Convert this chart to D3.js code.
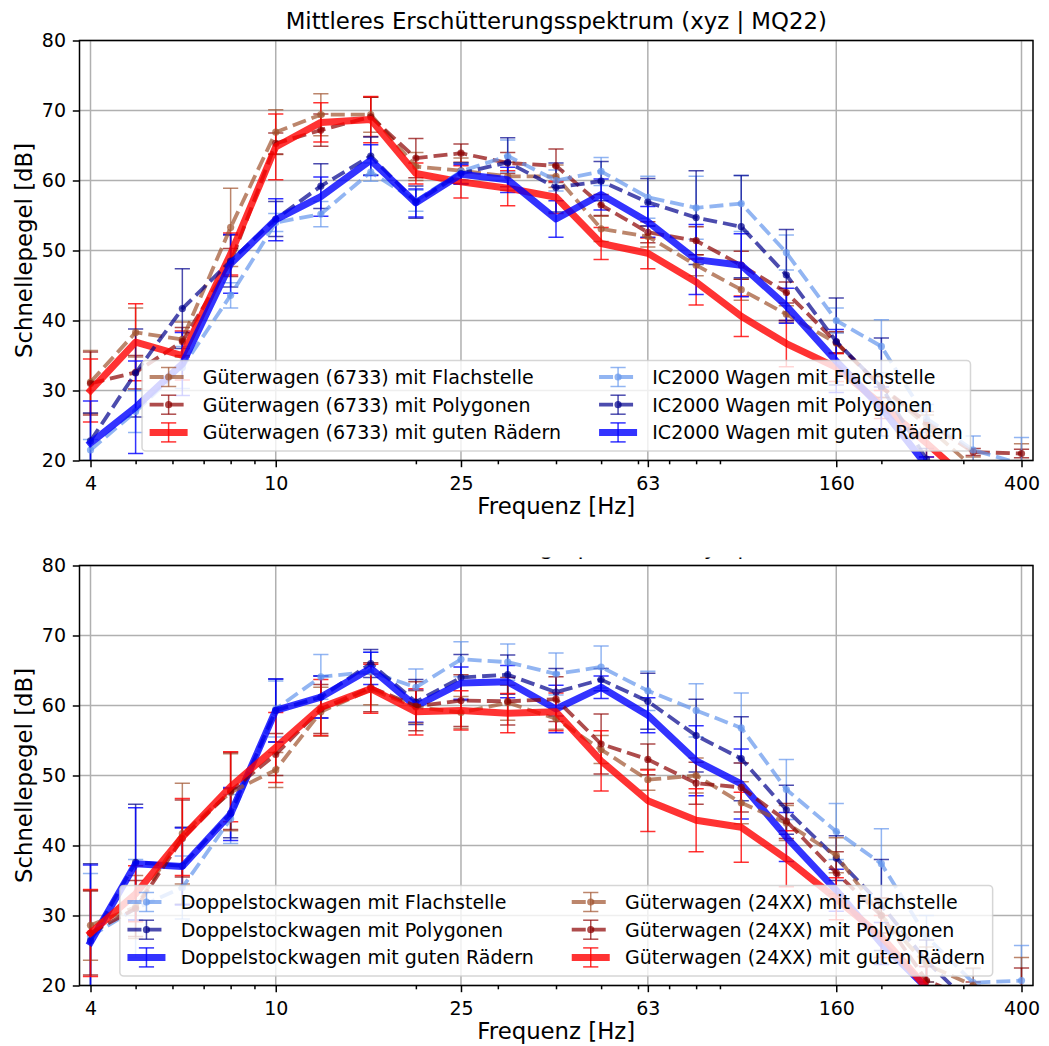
<!DOCTYPE html>
<html><head><meta charset="utf-8">
<script src="https://cdn.jsdelivr.net/npm/d3@7"></script>
<style>body{margin:0;background:#fff} svg{display:block} text{font-family:"DejaVu Sans",sans-serif;fill:#000}</style>
</head><body><svg id="c" width="1049" height="1046"></svg>
<script>
// ---------- data ----------
const bands = [4,5,6.3,8,10,12.5,16,20,25,31.5,40,50,63,80,100,125,160,200,250,315,400];
const xTickValues = [4,10,25,63,160,400];
const xTickLabels = ["4","10","25","63","160","400"];
const xMinorValues = [5,6,7,8,9,20,30,40,50,60,70,80,90,200,300];
const yTickValues = [20,30,40,50,60,70,80];
const chartTitle = "Mittleres Erschütterungsspektrum (xyz | MQ22)";
const xLabel = "Frequenz [Hz]";
const yLabel = "Schnellepegel [dB]";

// top panel
const labelsTop = ["Güterwagen (6733) mit Flachstelle","Güterwagen (6733) mit Polygonen","Güterwagen (6733) mit guten Rädern",
                   "IC2000 Wagen mit Flachstelle","IC2000 Wagen mit Polygonen","IC2000 Wagen mit guten Rädern"];
const g6733Flach = [31.2,38.3,37.3,53.3,66.9,69.4,69.4,62.0,61.4,60.6,60.6,53.1,52.0,47.9,44.4,40.9,36.8,30.5,25.0,19.0,19.5];
const g6733FlachErr = [4.5,3.5,2.5,5.6,3.2,3.0,2.5,2.0,1.8,2.0,1.6,1.8,1.5,1.5,1.5,1.2,1.5,1.5,1.5,1.5,2.9];
const g6733Poly = [31.0,32.6,37.0,48.3,65.3,67.2,69.1,63.2,63.9,62.5,62.1,56.5,52.6,51.4,47.9,44.0,36.9,30.5,25.5,21.2,21.0];
const g6733PolyErr = [4.5,2.4,2.0,2.0,1.5,2.3,2.8,2.8,1.3,1.5,2.4,1.5,1.5,2.0,2.0,1.5,1.5,1.5,1.5,0.5,0.6];
const g6733Gut = [30.0,36.9,35.0,49.5,64.8,68.3,68.7,61.0,59.8,58.9,57.6,51.0,49.6,45.5,40.6,36.7,33.3,28.0,22.5,16.5,13.0];
const g6733GutErr = [4.5,5.5,3.5,3.0,4.7,2.8,3.3,1.5,2.3,2.5,2.3,2.3,2.2,3.3,2.9,3.3,2.0,2.0,2.0,2.0,2.0];
const ic2000Flach = [21.5,27.0,33.3,43.6,54.0,55.2,61.2,57.1,61.3,63.5,60.0,61.3,57.6,56.1,56.7,49.7,40.0,36.3,26.0,21.5,19.5];
const ic2000FlachErr = [1.5,3.0,3.0,1.8,1.3,1.8,1.3,1.5,1.2,2.3,1.5,2.0,3.0,4.5,4.0,2.5,1.8,3.8,2.0,2.0,3.8];
const ic2000Poly = [22.8,32.5,41.7,48.5,54.5,59.2,63.5,56.9,61.0,62.6,59.0,59.9,56.9,54.7,53.4,46.5,37.0,30.5,20.2,15.0,12.0];
const ic2000PolyErr = [4.0,6.3,5.7,3.7,2.5,3.2,2.7,2.3,1.5,3.5,3.5,2.8,3.4,6.7,7.3,6.5,6.2,7.0,1.5,1.5,1.5];
const ic2000Gut = [22.5,27.6,33.8,48.1,54.4,57.7,62.9,56.8,60.9,60.1,54.5,58.0,54.1,48.7,47.9,42.1,34.2,27.5,19.3,12.0,9.0];
const ic2000GutErr = [6.0,6.6,4.5,4.2,3.0,2.8,2.2,2.0,1.4,1.8,2.6,2.2,2.2,5.0,4.5,2.5,4.5,3.0,1.2,1.5,1.5];

// bottom panel
const labelsBottom = ["Doppelstockwagen mit Flachstelle","Doppelstockwagen mit Polygonen","Doppelstockwagen mit guten Rädern",
                      "Güterwagen (24XX) mit Flachstelle","Güterwagen (24XX) mit Polygonen","Güterwagen (24XX) mit guten Rädern"];
const dsFlach = [27.0,31.0,34.0,43.8,59.5,64.1,64.8,62.6,66.6,66.2,64.5,65.5,62.1,59.3,56.8,48.0,42.0,37.4,27.0,20.4,20.7];
const dsFlachErr = [9.0,7.0,4.5,3.5,4.0,3.2,2.8,2.6,2.5,2.6,3.0,3.0,2.8,3.8,5.0,4.3,4.0,5.0,3.0,2.0,5.0];
const dsPoly = [26.4,37.6,37.1,44.6,59.3,61.2,66.0,60.5,64.0,64.4,61.9,63.7,60.6,55.7,52.4,45.1,38.2,31.5,23.5,17.0,14.0];
const dsPolyErr = [11.0,8.3,5.5,3.5,4.5,3.0,2.0,3.2,3.3,2.8,3.4,1.6,4.0,5.2,6.0,3.5,3.2,6.5,3.0,3.0,3.0];
const dsGut = [26.2,37.4,37.0,44.5,59.3,61.2,65.3,59.9,63.2,63.4,59.5,62.6,58.6,52.1,48.8,41.2,33.6,26.0,19.7,13.0,8.0];
const dsGutErr = [11.0,8.0,5.5,3.8,4.5,3.0,2.3,2.3,2.3,2.3,3.4,1.6,2.5,5.0,5.0,3.5,3.0,3.0,3.0,3.0,3.0];
const g24Flach = [28.6,31.2,41.7,47.6,50.8,59.1,62.3,59.8,59.0,60.4,58.1,53.7,49.4,50.0,46.1,43.2,38.6,30.0,23.0,20.0,18.0];
const g24FlachErr = [5.0,4.5,7.2,5.5,2.5,3.5,2.2,2.3,2.3,2.5,1.5,2.0,1.5,2.5,3.0,2.5,2.5,2.5,2.5,2.5,6.0];
const g24Poly = [27.5,31.0,41.0,47.8,53.0,59.5,62.6,59.9,60.7,60.6,60.9,54.5,52.3,48.9,48.3,43.5,36.1,30.0,20.7,18.0,17.0];
const g24PolyErr = [6.0,4.0,5.5,5.5,3.0,3.5,3.5,3.5,3.7,3.4,3.2,4.3,2.2,3.0,3.5,2.5,3.0,2.5,2.5,2.5,5.5];
const g24Gut = [27.5,33.1,41.2,48.4,54.0,59.7,62.4,59.1,59.3,58.9,59.1,52.1,46.4,43.6,42.6,38.1,32.4,27.0,19.7,14.0,10.0];
const g24GutErr = [6.2,4.0,5.5,5.0,5.0,4.0,3.5,3.3,2.8,2.8,2.7,4.3,4.4,4.5,5.0,4.0,3.0,3.0,3.0,3.0,3.0];

// ---------- styles ----------
const ST = {
  sienna:  {color:"#a0522d", dash:true,  alpha:0.7},
  darkred: {color:"#8b0000", dash:true,  alpha:0.7},
  red:     {color:"#ff0000", dash:false, alpha:0.8},
  cfblue:  {color:"#6495ed", dash:true,  alpha:0.7},
  navy:    {color:"#00008b", dash:true,  alpha:0.7},
  blue:    {color:"#0000ff", dash:false, alpha:0.8}
};
const FS_TICK = 19, FS_LABEL = 22.8;
const DASH_W = 3.8, SOLID_W = 7, ERR_W = 1.5, CAP = 7.6, MR = 3.6;

const panels = [
  {top:40.5, bottom:460.5, clipTitle:false, series:[
    {label:labelsTop[0], v:g6733Flach, e:g6733FlachErr, st:ST.sienna},
    {label:labelsTop[1], v:g6733Poly,  e:g6733PolyErr,  st:ST.darkred},
    {label:labelsTop[2], v:g6733Gut,   e:g6733GutErr,   st:ST.red},
    {label:labelsTop[3], v:ic2000Flach,e:ic2000FlachErr,st:ST.cfblue},
    {label:labelsTop[4], v:ic2000Poly, e:ic2000PolyErr, st:ST.navy},
    {label:labelsTop[5], v:ic2000Gut,  e:ic2000GutErr,  st:ST.blue}]},
  {top:565.5, bottom:985.5, clipTitle:true, series:[
    {label:labelsBottom[0], v:dsFlach, e:dsFlachErr, st:ST.cfblue},
    {label:labelsBottom[1], v:dsPoly,  e:dsPolyErr,  st:ST.navy},
    {label:labelsBottom[2], v:dsGut,   e:dsGutErr,   st:ST.blue},
    {label:labelsBottom[3], v:g24Flach,e:g24FlachErr,st:ST.sienna},
    {label:labelsBottom[4], v:g24Poly, e:g24PolyErr, st:ST.darkred},
    {label:labelsBottom[5], v:g24Gut,  e:g24GutErr,  st:ST.red}]}
];

const svg = d3.select("#c");
const L = 79.5, R = 1033;
const x = d3.scaleLog().domain([4,400]).range([90.5,1021.5]);

panels.forEach((p, pi) => {
  const y = d3.scaleLinear().domain([20,80]).range([p.bottom, p.top]);
  const g = svg.append("g");
  const cid = "clip" + pi;
  svg.append("clipPath").attr("id", cid).append("rect")
    .attr("x", L).attr("y", p.top).attr("width", R-L).attr("height", p.bottom-p.top);

  // grid
  const grid = g.append("g").attr("stroke","#b0b0b0").attr("stroke-width",1.5);
  xTickValues.forEach(t => grid.append("line").attr("x1",x(t)).attr("x2",x(t)).attr("y1",p.top).attr("y2",p.bottom));
  yTickValues.forEach(t => grid.append("line").attr("x1",L).attr("x2",R).attr("y1",y(t)).attr("y2",y(t)));

  const plot = g.append("g").attr("clip-path", `url(#${cid})`);
  // error bars (below all lines)
  p.series.forEach(s => {
    const eg = plot.append("g").attr("stroke", s.st.color).attr("stroke-opacity", s.st.alpha).attr("stroke-width", ERR_W);
    bands.forEach((f, i) => {
      const xx = x(f), y1 = y(s.v[i]-s.e[i]), y2 = y(s.v[i]+s.e[i]);
      eg.append("line").attr("x1",xx).attr("x2",xx).attr("y1",y1).attr("y2",y2);
      eg.append("line").attr("x1",xx-CAP).attr("x2",xx+CAP).attr("y1",y1).attr("y2",y1);
      eg.append("line").attr("x1",xx-CAP).attr("x2",xx+CAP).attr("y1",y2).attr("y2",y2);
    });
  });
  // lines
  const line = d3.line().x((d,i)=>x(bands[i])).y(d=>y(d));
  p.series.forEach(s => {
    plot.append("path").attr("d", line(s.v)).attr("fill","none")
      .attr("stroke", s.st.color).attr("stroke-opacity", s.st.alpha)
      .attr("stroke-width", s.st.dash ? DASH_W : SOLID_W)
      .attr("stroke-dasharray", s.st.dash ? "14 6" : null)
      .attr("stroke-linejoin","round").attr("stroke-linecap", s.st.dash ? "butt" : "square");
    if (s.st.dash) {
      plot.append("g").selectAll("circle").data(s.v).join("circle")
        .attr("cx",(d,i)=>x(bands[i])).attr("cy",d=>y(d)).attr("r",MR)
        .attr("fill", s.st.color).attr("fill-opacity", s.st.alpha);
    }
  });

  // axes
  const xa = g.append("g").attr("transform",`translate(0,${p.bottom})`)
    .call(d3.axisBottom(x).tickValues(xTickValues).tickFormat((d,i)=>xTickLabels[i]).tickSize(6.7).tickPadding(9.3).tickSizeOuter(0));
  const xm = g.append("g").attr("transform",`translate(0,${p.bottom})`)
    .call(d3.axisBottom(x).tickValues(xMinorValues).tickFormat("").tickSize(3.8).tickSizeOuter(0));
  const ya = g.append("g").attr("transform",`translate(${L},0)`)
    .call(d3.axisLeft(y).tickValues(yTickValues).tickSize(6.7).tickPadding(6.8).tickSizeOuter(0));
  [xa,xm,ya].forEach(a => {
    a.select(".domain").remove();
    a.selectAll(".tick line").attr("stroke","#000").attr("stroke-width",1.5);
    a.selectAll(".tick text").attr("font-size",FS_TICK).attr("font-family","DejaVu Sans").attr("fill","#000");
  });
  // spines
  g.append("rect").attr("x",L).attr("y",p.top).attr("width",R-L).attr("height",p.bottom-p.top)
    .attr("fill","none").attr("stroke","#000").attr("stroke-width",1.5);

  // labels
  g.append("text").attr("x",(L+R)/2).attr("y",p.bottom+53.5).attr("text-anchor","middle")
    .attr("font-size",FS_LABEL).text(xLabel);
  g.append("text").attr("transform",`translate(31.5,${(p.top+p.bottom)/2}) rotate(-90)`)
    .attr("text-anchor","middle").attr("font-size",FS_LABEL).text(yLabel);
  const tt = g.append("text").attr("x",(L+R)/2).attr("y",p.top-11.5).attr("text-anchor","middle")
    .attr("font-size",FS_LABEL).text(chartTitle);
  if (p.clipTitle) {
    svg.append("clipPath").attr("id","tclip"+pi).append("rect")
      .attr("x",0).attr("y",p.top-8).attr("width",1049).attr("height",8);
    tt.attr("clip-path",`url(#tclip${pi})`);
  }

  // legend
  const lg = g.append("g");
  const widths = p.series.map(s => {
    const t = lg.append("text").attr("font-size",FS_TICK).text(s.label);
    const w = t.node().getComputedTextLength(); t.remove(); return w;
  });
  const hl = 38, htp = 15.2, bp = 7.6, cs = 38;
  const c1 = d3.max(widths.slice(0,3)), c2 = d3.max(widths.slice(3));
  const W = bp + hl + htp + c1 + cs + hl + htp + c2 + bp;
  const bx = (L+R)/2 - W/2, bb = p.bottom - 9.5, bt = bb - 90.5;
  lg.append("rect").attr("x",bx).attr("y",bt).attr("width",W).attr("height",bb-bt).attr("rx",3.8)
    .attr("fill","#fff").attr("fill-opacity",0.8).attr("stroke","#cccccc").attr("stroke-opacity",0.8).attr("stroke-width",1.5);
  p.series.forEach((s, i) => {
    const col = Math.floor(i/3), row = i % 3;
    const hx = bx + bp + (col ? hl + htp + c1 + cs : 0);
    const ry = bt + 16.5 + row*27.7;
    const hg = lg.append("g").attr("stroke", s.st.color).attr("stroke-opacity", s.st.alpha);
    const cx = hx + hl/2;
    hg.append("line").attr("x1",cx).attr("x2",cx).attr("y1",ry-9.5).attr("y2",ry+9.5).attr("stroke-width",ERR_W);
    hg.append("line").attr("x1",cx-CAP).attr("x2",cx+CAP).attr("y1",ry-9.5).attr("y2",ry-9.5).attr("stroke-width",ERR_W);
    hg.append("line").attr("x1",cx-CAP).attr("x2",cx+CAP).attr("y1",ry+9.5).attr("y2",ry+9.5).attr("stroke-width",ERR_W);
    hg.append("line").attr("x1",hx).attr("x2",hx+hl).attr("y1",ry).attr("y2",ry)
      .attr("stroke-width", s.st.dash ? DASH_W : SOLID_W)
      .attr("stroke-dasharray", s.st.dash ? "14 6" : null).attr("stroke-linecap","butt");
    if (s.st.dash) lg.append("circle").attr("cx",cx).attr("cy",ry).attr("r",MR)
      .attr("fill",s.st.color).attr("fill-opacity",s.st.alpha);
    lg.append("text").attr("x",hx+hl+htp).attr("y",ry).attr("dy","0.36em")
      .attr("font-size",FS_TICK).text(s.label);
  });
});
</script></body></html>
